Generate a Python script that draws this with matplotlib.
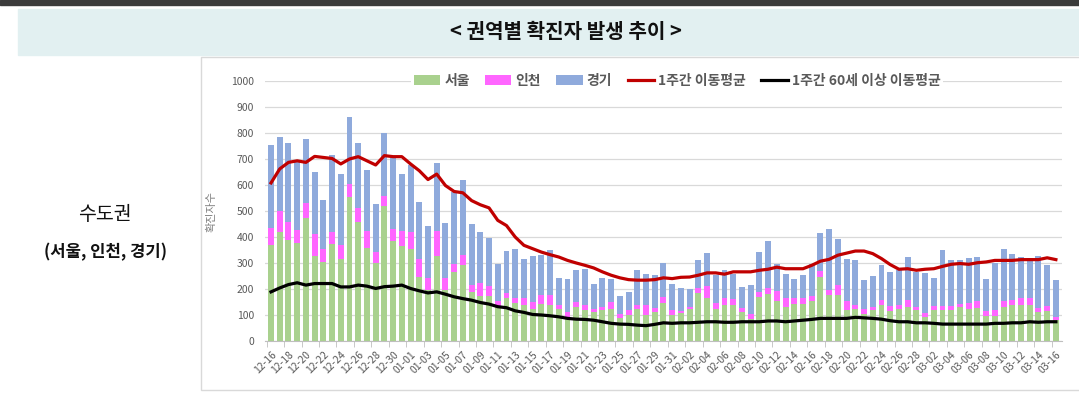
import numpy as np
import matplotlib.pyplot as plt
from matplotlib.patches import Rectangle
import pandas as pd

plt.rcParams['font.family'] = ['Noto Sans CJK KR', 'DejaVu Sans']

dates = pd.date_range('2020-12-16', '2021-03-16', freq='D')
date_labels = [d.strftime('%m-%d') for d in dates]

# cumulative tops: total, seoul+incheon, seoul
total = [755, 784, 760, 690, 776, 649, 544, 716, 644, 861, 761, 656, 527, 801, 705, 644,
         677, 534, 444, 684, 455, 572, 619, 451, 418, 398, 298, 346, 354, 317, 326, 332,
         349, 243, 240, 275, 278, 221, 243, 240, 174, 189, 275, 259, 255, 301, 221,
         202, 199, 310, 338, 255, 275, 259, 206, 217, 342, 383, 298, 257, 240, 253,
         298, 415, 432, 393, 314, 310, 234, 250, 291, 266, 272, 323, 266,
         263, 243, 351, 310, 310, 319, 323, 238, 301, 355, 336, 323, 319, 327, 291, 234]
seoul_incheon = [435, 500, 457, 428, 531, 412, 352, 421, 368, 604, 513, 423, 342, 556, 432, 425,
                 421, 317, 243, 425, 243, 298, 330, 215, 225, 210, 155, 185, 165, 166, 151, 176,
                 176, 140, 112, 151, 140, 123, 132, 151, 102, 119, 138, 140, 128, 170, 119,
                 115, 132, 202, 211, 147, 166, 160, 128, 102, 189, 202, 193, 166, 166, 166,
                 174, 270, 195, 215, 153, 140, 125, 132, 157, 135, 140, 157, 132,
                 106, 135, 135, 135, 144, 148, 153, 116, 119, 153, 157, 166, 166, 128, 135, 93]
seoul = [370, 419, 390, 378, 472, 327, 304, 372, 314, 552, 457, 358, 299, 521, 383, 364,
         355, 246, 195, 327, 195, 266, 291, 189, 175, 175, 135, 165, 145, 140, 123, 144,
         140, 125, 93, 132, 119, 112, 119, 125, 87, 100, 123, 100, 110, 148, 100,
         106, 123, 183, 166, 123, 140, 140, 110, 84, 170, 179, 153, 132, 144, 144,
         153, 246, 176, 176, 119, 123, 102, 119, 138, 115, 125, 132, 119,
         93, 119, 119, 119, 132, 125, 128, 97, 97, 132, 138, 138, 138, 110, 115, 80]
ma7 = [608, 662, 687, 693, 687, 710, 706, 702, 681, 700, 709, 693, 677, 713, 709, 709,
       681, 655, 621, 642, 598, 575, 570, 540, 524, 512, 464, 444, 400, 368, 355, 342,
       332, 323, 310, 300, 291, 281, 266, 253, 243, 236, 234, 234, 236, 243, 240,
       245, 246, 253, 262, 262, 257, 266, 266, 266, 272, 276, 284, 278, 278, 278,
       291, 307, 314, 330, 338, 346, 346, 336, 317, 294, 276, 278, 272,
       276, 278, 287, 295, 298, 295, 301, 304, 310, 310, 310, 313, 313, 313, 320, 313]
ma7_60 = [189, 204, 217, 224, 215, 221, 221, 221, 208, 208, 215, 211, 202, 209, 211, 215,
          202, 193, 185, 189, 180, 170, 163, 157, 148, 142, 132, 128, 116, 110, 102, 100,
          97, 93, 87, 84, 83, 80, 74, 68, 65, 64, 61, 59, 64, 70, 68,
          70, 70, 72, 74, 74, 72, 72, 74, 74, 74, 77, 77, 74, 77, 80,
          83, 87, 87, 87, 87, 91, 89, 87, 84, 78, 74, 74, 70,
          70, 68, 65, 65, 65, 65, 65, 65, 68, 68, 70, 70, 74, 72, 74, 74]

total = np.array(total)
seoul_incheon = np.array(seoul_incheon)
seoul = np.array(seoul)
incheon = seoul_incheon - seoul
gyeonggi = total - seoul_incheon

W, H = 1079, 393
fig = plt.figure(figsize=(W / 100, H / 100), dpi=100)

# page decorations (pixel coords)
bg = fig.add_axes([0, 0, 1, 1])
bg.set_xlim(0, W)
bg.set_ylim(H, 0)
bg.axis('off')
bg.add_patch(Rectangle((0, 0), W, 5, color='#3b3b3b'))
bg.add_patch(Rectangle((18, 9), W - 18, 46, color='#e2f0f1'))
bg.add_patch(Rectangle((201, 57), W - 200, 333, facecolor='white', edgecolor='#d9d9d9', lw=1))
bg.text(566, 31, '< 권역별 확진자 발생 추이 >', ha='center', va='center',
        fontsize=14.5, fontweight='bold', color='#111111')
bg.text(105, 214, '수도권', ha='center', va='center', fontsize=14, color='#111111')
bg.text(105, 252, '(서울, 인천, 경기)', ha='center', va='center', fontsize=12,
        fontweight='bold', color='#111111')

ax = fig.add_axes([265 / W, 1 - 341 / H, (1062 - 265) / W, (341 - 81) / H])
x = np.arange(len(dates))
bw = 0.68
ax.bar(x, seoul, bw, color='#a9d18e', label='서울', zorder=2)
ax.bar(x, incheon, bw, bottom=seoul, color='#ff66ff', label='인천', zorder=2)
ax.bar(x, gyeonggi, bw, bottom=seoul_incheon, color='#8faadc', label='경기', zorder=2)
ax.plot(x, ma7, color='#c00000', lw=2.3, label='1주간 이동평균', zorder=3)
ax.plot(x, ma7_60, color='black', lw=2.3, label='1주간 60세 이상 이동평균', zorder=3)

ax.set_xlim(-0.69, 90.7)
ax.set_ylim(0, 1000)
ax.set_yticks(range(0, 1001, 100))
ax.yaxis.grid(True, color='#d9d9d9', lw=0.9, zorder=0)
ax.tick_params(axis='y', length=0, labelsize=7.5, labelcolor='#595959', pad=8)
ax.set_xticks(x[::2])
ax.set_xticklabels(date_labels[::2], rotation=45, ha='right', rotation_mode='anchor',
                   fontsize=7.5, color='#595959')
ax.set_xticks(x[::2] - 0.5, minor=True)
ax.tick_params(axis='x', which='major', length=0, pad=6)
ax.tick_params(axis='x', which='minor', length=4, color='#bfbfbf')
for s in ['top', 'right', 'left']:
    ax.spines[s].set_visible(False)
ax.spines['bottom'].set_color('#bfbfbf')
ax.set_ylabel('확진자수', fontsize=8, color='#7f7f7f', labelpad=10)

handles, labels = ax.get_legend_handles_labels()
order = [2, 3, 4, 0, 1]
leg = ax.legend([handles[i] for i in order], [labels[i] for i in order], ncol=5,
                loc='center', bbox_to_anchor=(0.517, 1.0), frameon=True, facecolor='white',
                edgecolor='none', framealpha=1, handlelength=1.9,
                handleheight=0.75, columnspacing=1.1, handletextpad=0.3,
                borderpad=0.2, prop={'weight': 'bold', 'size': 10})
for t in leg.get_texts():
    t.set_color('#595959')

fig.savefig('out.png', dpi=100)
